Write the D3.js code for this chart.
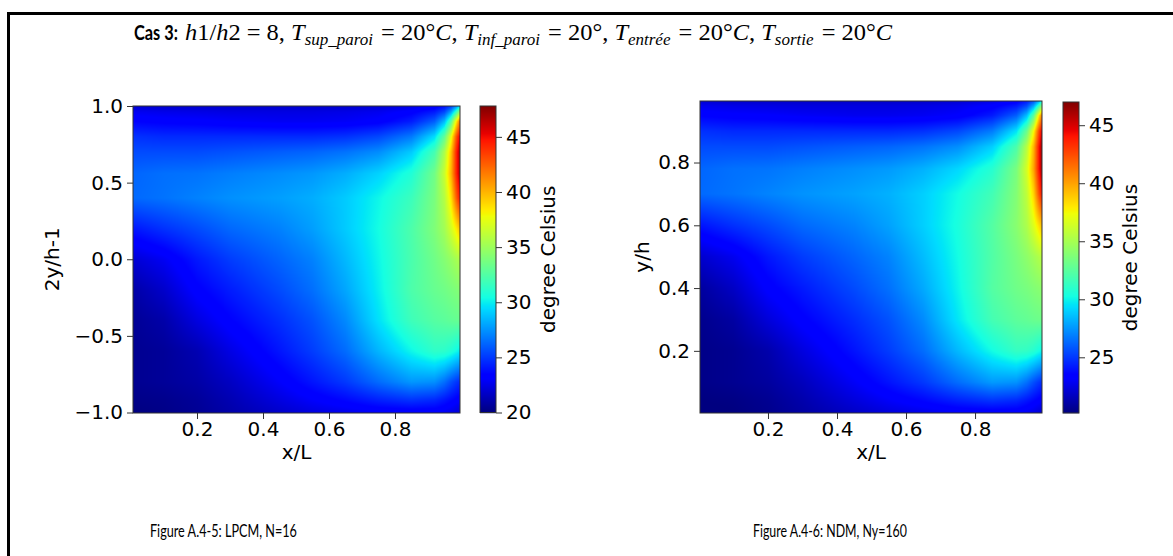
<!DOCTYPE html>
<html><head><meta charset="utf-8">
<script src="https://cdn.jsdelivr.net/npm/d3@7"></script>
<style>
html,body{margin:0;padding:0;background:#fff;}
svg{display:block;}
</style></head>
<body>
<svg id="chart" width="1173" height="556"></svg>
<script>
// ---------------- DATA ----------------
// grid of estimated temperatures (°C): columns = x/L, rows = y/h (bottom to top)
const xsGrid = [0, 0.1, 0.2, 0.3, 0.45, 0.55, 0.65, 0.75, 0.85, 0.92, 0.95, 0.97, 0.985, 1.0];
const ysGrid = [0, 0.04, 0.1, 0.2, 0.3, 0.4, 0.5, 0.6, 0.7, 0.78, 0.85, 0.9, 0.95, 0.98, 1.0];
const tempGrid = [
  [20.0, 20.2, 20.5, 21.0, 21.8, 22.3, 22.6, 22.9, 23.0, 23.0, 22.8, 22.5, 22.2, 22.0],
  [20.2, 20.3, 20.6, 21.2, 22.3, 23.0, 23.6, 24.3, 24.8, 24.5, 24.0, 23.6, 23.3, 23.0],
  [20.4, 20.6, 20.9, 21.6, 23.0, 24.0, 25.0, 26.4, 27.6, 27.4, 26.5, 25.6, 25.0, 24.5],
  [20.4, 20.6, 21.2, 22.4, 24.0, 25.1, 26.4, 28.4, 30.2, 31.3, 31.2, 30.8, 30.3, 29.8],
  [20.5, 21.0, 22.3, 23.4, 24.7, 25.7, 27.2, 29.6, 31.8, 32.6, 32.8, 33.0, 33.1, 33.2],
  [20.9, 21.8, 23.3, 24.2, 25.5, 26.5, 28.0, 30.0, 32.3, 33.2, 33.5, 33.8, 34.0, 34.3],
  [22.0, 22.8, 24.1, 25.1, 26.2, 27.0, 28.5, 30.2, 32.2, 33.5, 34.2, 34.8, 35.3, 35.8],
  [24.0, 24.8, 25.5, 26.3, 27.0, 27.8, 29.0, 30.4, 32.3, 34.0, 35.2, 36.8, 38.3, 40.0],
  [26.3, 26.6, 27.0, 27.4, 27.8, 28.2, 29.0, 30.2, 31.7, 33.8, 35.8, 38.6, 42.3, 45.5],
  [26.2, 26.5, 26.6, 26.9, 27.3, 27.6, 28.2, 29.2, 30.8, 33.5, 36.5, 40.0, 44.0, 47.3],
  [25.5, 25.5, 25.5, 25.7, 26.0, 26.2, 26.6, 27.3, 29.0, 32.0, 35.5, 39.5, 44.0, 47.5],
  [24.8, 24.6, 24.6, 24.6, 24.6, 24.6, 24.8, 25.4, 26.8, 29.5, 33.0, 37.5, 42.5, 46.5],
  [23.5, 23.3, 23.2, 23.0, 22.8, 22.8, 22.9, 23.2, 24.2, 26.0, 28.5, 32.5, 38.0, 43.0],
  [22.8, 22.6, 22.5, 22.4, 22.4, 22.4, 22.5, 22.7, 23.3, 24.2, 25.5, 28.0, 31.5, 36.0],
  [22.0, 21.8, 21.8, 21.8, 21.8, 21.8, 21.8, 22.0, 22.4, 23.0, 23.8, 25.0, 27.0, 30.0]
];
// axis extents
const leftXDomain = [0.006, 0.997];
const leftYDomain = [-1, 1];
const rightXDomain = [0.003, 0.994];
const rightYDomain = [0.002, 0.996];
const leftColorDomain = [20, 47.8];
const rightColorDomain = [20.2, 47.0];
// tick labels
const xTicks = [0.2, 0.4, 0.6, 0.8];
const leftYTicks = [-1.0, -0.5, 0.0, 0.5, 1.0];
const rightYTicks = [0.2, 0.4, 0.6, 0.8];
const leftCbarTicks = [20, 25, 30, 35, 40, 45];
const rightCbarTicks = [25, 30, 35, 40, 45];
// texts
const leftXLabel = "x/L", leftYLabel = "2y/h-1";
const rightXLabel = "x/L", rightYLabel = "y/h";
const cbarLabel = "degree Celsius";
const captionLeft = "Figure A.4-5: LPCM, N=16";
const captionRight = "Figure A.4-6: NDM, Ny=160";

// ---------------- HELPERS ----------------
function piece(pts, t){
  if (t <= pts[0][0]) return pts[0][1];
  for (let i=1;i<pts.length;i++){
    if (t <= pts[i][0]){
      const a=pts[i-1], b=pts[i];
      return a[1] + (b[1]-a[1])*(t-a[0])/(b[0]-a[0]);
    }
  }
  return pts[pts.length-1][1];
}
function jet(t){
  t = Math.max(0, Math.min(1, t));
  const r = piece([[0,0],[0.35,0],[0.66,1],[0.89,1],[1,0.5]], t);
  const g = piece([[0,0],[0.125,0],[0.375,1],[0.64,1],[0.91,0],[1,0]], t);
  const b = piece([[0,0.5],[0.11,1],[0.34,1],[0.65,0],[1,0]], t);
  return [Math.round(r*255), Math.round(g*255), Math.round(b*255)];
}
function locate(arr, v){
  let i = d3.bisectRight(arr, v) - 1;
  i = Math.max(0, Math.min(arr.length-2, i));
  const f = Math.max(0, Math.min(1, (v-arr[i])/(arr[i+1]-arr[i])));
  return [i, f];
}
function tempAt(x, yh){
  const [i, fx] = locate(xsGrid, x);
  const [j, fy] = locate(ysGrid, yh);
  const a = tempGrid[j][i], b = tempGrid[j][i+1], c = tempGrid[j+1][i], d = tempGrid[j+1][i+1];
  return (a*(1-fx)+b*fx)*(1-fy) + (c*(1-fx)+d*fx)*fy;
}
function fitX(sel, x0, target){
  const bb = sel.node().getBBox();
  const s = target/bb.width;
  sel.attr("transform",`translate(${x0},0) scale(${s},1) translate(${-x0},0)`);
}

const svg = d3.select("#chart");
svg.append("rect").attr("width",1173).attr("height",556).attr("fill","#fff");

// frame
svg.append("line").attr("x1",7).attr("x2",1173).attr("y1",13.5).attr("y2",13.5).attr("stroke","#000").attr("stroke-width",3);
svg.append("line").attr("x1",8.5).attr("x2",8.5).attr("y1",12).attr("y2",556).attr("stroke","#000").attr("stroke-width",3);

const tickFont = "'DejaVu Sans', sans-serif";
const TICK_FS = 20;

function drawPanel(opt){
  const x = d3.scaleLinear().domain(opt.xDomain).range([opt.x0, opt.x1]);
  const y = d3.scaleLinear().domain(opt.yDomain).range([opt.y1, opt.y0]);
  const color = d3.scaleLinear().domain(opt.cDomain).range([0,1]);
  const w = Math.round(opt.x1-opt.x0), h = Math.round(opt.y1-opt.y0);
  const cv = document.createElement("canvas");
  cv.width = w; cv.height = h;
  const ctx = cv.getContext("2d");
  const img = ctx.createImageData(w, h);
  for (let py=0; py<h; py++){
    const yv = y.invert(opt.y0 + py + 0.5);
    const yh = opt.toYH(yv);
    for (let px=0; px<w; px++){
      const xv = x.invert(opt.x0 + px + 0.5);
      const c = jet(color(tempAt(xv, yh)));
      const k = (py*w+px)*4;
      img.data[k]=c[0]; img.data[k+1]=c[1]; img.data[k+2]=c[2]; img.data[k+3]=255;
    }
  }
  ctx.putImageData(img,0,0);
  svg.append("image").attr("x",opt.x0).attr("y",opt.y0).attr("width",w).attr("height",h)
    .attr("preserveAspectRatio","none").attr("href", cv.toDataURL());
  svg.append("rect").attr("x",opt.x0).attr("y",opt.y0).attr("width",w).attr("height",h)
    .attr("fill","none").attr("stroke","#333").attr("stroke-width",1);

  const gx = svg.append("g").attr("transform",`translate(0,${opt.y0+h})`)
    .call(d3.axisBottom(x).tickValues(xTicks).tickFormat(d3.format(".1f")).tickSize(6).tickPadding(3));
  const gy = svg.append("g").attr("transform",`translate(${opt.x0},0)`)
    .call(d3.axisLeft(y).tickValues(opt.yTicks).tickFormat(d => d3.format(".1f")(d).replace("-","\u2212")).tickSize(6).tickPadding(4));
  [gx,gy].forEach(g=>{
    g.select(".domain").remove();
    g.selectAll("line").attr("stroke","#333");
    g.selectAll("text").attr("font-family",tickFont).attr("font-size",TICK_FS).attr("fill","#000");
  });
  svg.append("text").attr("x",(opt.x0+opt.x1)/2).attr("y",opt.y1+46)
    .attr("text-anchor","middle").attr("font-family",tickFont).attr("font-size",TICK_FS).text(opt.xLabel);
  svg.append("text").attr("transform",`translate(${opt.yLabelX},${(opt.y0+opt.y1)/2}) rotate(-90)`)
    .attr("text-anchor","middle").attr("dy","0.35em").attr("font-family",tickFont).attr("font-size",TICK_FS).text(opt.yLabel);

  // colorbar
  const cy = d3.scaleLinear().domain(opt.cDomain).range([opt.cy1, opt.cy0]);
  const rows = d3.range(Math.round(opt.cy0), Math.round(opt.cy1));
  svg.append("g").selectAll("rect").data(rows).join("rect")
    .attr("x",opt.cx0).attr("width",opt.cx1-opt.cx0).attr("y",d=>d).attr("height",1.2)
    .attr("fill",d=>{const c=jet(color(cy.invert(d+0.5)));return `rgb(${c[0]},${c[1]},${c[2]})`;});
  svg.append("rect").attr("x",opt.cx0).attr("y",opt.cy0).attr("width",opt.cx1-opt.cx0).attr("height",opt.cy1-opt.cy0)
    .attr("fill","none").attr("stroke","#333").attr("stroke-width",1);
  const gc = svg.append("g").attr("transform",`translate(${opt.cx1},0)`)
    .call(d3.axisRight(cy).tickValues(opt.cTicks).tickFormat(d3.format("d")).tickSize(6).tickPadding(4));
  gc.select(".domain").remove();
  gc.selectAll("line").attr("stroke","#333");
  gc.selectAll("text").attr("font-family",tickFont).attr("font-size",TICK_FS).attr("fill","#000");
  svg.append("text").attr("transform",`translate(${opt.cLabelX},${(opt.cy0+opt.cy1)/2}) rotate(-90)`)
    .attr("text-anchor","middle").attr("dy","0.35em").attr("font-family",tickFont).attr("font-size",TICK_FS).text(cbarLabel);
}

drawPanel({x0:133, x1:460, y0:106, y1:412.5, xDomain:leftXDomain, yDomain:leftYDomain,
  toYH: v => (v+1)/2, yTicks:leftYTicks, xLabel:leftXLabel, yLabel:leftYLabel, yLabelX:52,
  cDomain:leftColorDomain, cx0:480, cx1:496, cy0:106, cy1:412.5, cTicks:leftCbarTicks, cLabelX:548});
drawPanel({x0:700, x1:1042, y0:101, y1:413, xDomain:rightXDomain, yDomain:rightYDomain,
  toYH: v => v, yTicks:rightYTicks, xLabel:rightXLabel, yLabel:rightYLabel, yLabelX:642,
  cDomain:rightColorDomain, cx0:1063, cx1:1079, cy0:102, cy1:413, cTicks:rightCbarTicks, cLabelX:1130});

// ---------------- TITLE ----------------
const cas = svg.append("text").attr("x",134).attr("y",40).attr("font-family","Lato, 'Open Sans', sans-serif")
  .attr("font-weight","bold").attr("font-size",21).text("Cas 3:");
fitX(cas, 134, 44);
const title = svg.append("text").attr("x",185).attr("y",40).attr("font-size",23).attr("fill","#000");
const serif = "'Liberation Serif', 'DejaVu Serif', serif";
function m(txt, italic){ title.append("tspan").attr("font-family",serif).attr("font-style",italic?"italic":"normal").text(txt); }
function sub(txt){
  title.append("tspan").attr("font-family",serif).attr("font-style","italic").attr("font-size",16).attr("dy",5).text(txt);
  title.append("tspan").attr("dy",-5).attr("font-size",23).text("\u200A");
}
m("h",true); m("1/",false); m("h",true); m("2 = 8,  ",false);
m("T",true); sub("sup_paroi"); m(" = 20°",false); m("C",true); m(",  ",false);
m("T",true); sub("inf_paroi"); m(" = 20°,  ",false);
m("T",true); sub("entrée"); m(" = 20°",false); m("C",true); m(",  ",false);
m("T",true); sub("sortie"); m(" = 20°",false); m("C",true);
fitX(title, 185, 893-185);

// ---------------- CAPTIONS ----------------
const capL = svg.append("text").attr("x",150).attr("y",537).attr("font-family","Lato, 'Open Sans', sans-serif").attr("font-size",18).text(captionLeft);
fitX(capL, 150, 147);
const capR = svg.append("text").attr("x",753).attr("y",537).attr("font-family","Lato, 'Open Sans', sans-serif").attr("font-size",18).text(captionRight);
fitX(capR, 753, 154);
</script>
</body></html>
